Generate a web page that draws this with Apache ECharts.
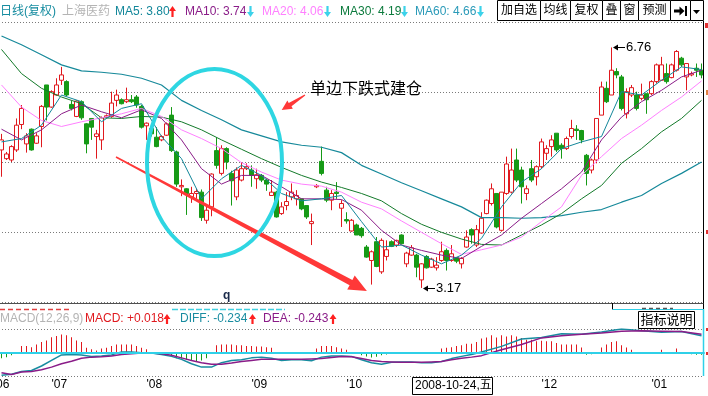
<!DOCTYPE html>
<html><head><meta charset="utf-8">
<script src="https://cdn.jsdelivr.net/npm/echarts@6/dist/echarts.min.js"></script>
<style>html,body{margin:0;padding:0;background:#fff}#c{width:708px;height:396px}</style>
</head><body><div id="c"></div>
<script>
// ---- daily candles (price, adjusted) ----
const openP = [5.23,5.10,5.08,5.23,5.61,5.32,5.54,5.33,5.58,6.20,
 5.87,6.05,6.27,6.25,5.91,5.73,5.95,5.62,5.70,5.43,
 5.38,5.72,5.73,5.97,5.98,5.95,5.98,6.02,5.88,5.59,
 5.55,5.42,5.38,5.45,5.75,5.20,4.68,4.65,4.53,4.58,
 4.60,4.18,4.38,5.22,4.88,5.25,4.88,4.53,4.78,4.95,
 4.93,4.80,4.85,4.78,4.55,4.60,4.28,4.40,4.53,4.50,
 4.50,4.40,4.13,4.68,5.06,4.63,4.48,4.60,4.36,4.19,
 4.02,4.11,4.06,3.78,3.58,3.86,3.41,3.64,3.86,3.81,
 3.96,3.53,3.66,3.66,3.29,3.64,3.48,3.47,3.58,3.73,
 3.58,3.62,3.53,3.78,4.04,3.81,3.99,4.28,4.43,4.58,
 4.03,4.58,4.60,5.08,4.93,4.58,4.95,4.83,4.98,5.18,
 5.28,5.48,5.30,5.25,5.43,5.54,5.52,5.15,4.93,5.08,
 5.75,6.15,6.05,6.40,6.32,5.77,6.05,6.05,6.00,6.07,
 6.07,6.25,6.27,6.37,6.31,6.42,6.60,6.32,6.35,6.45,
 6.42];
const closeP = [5.38,5.17,5.28,5.60,5.85,5.44,5.23,5.44,5.88,5.87,
 6.10,6.20,6.35,6.05,5.85,5.96,5.71,5.32,5.57,5.47,
 5.71,5.74,5.93,6.05,5.92,5.98,5.95,5.90,5.57,5.63,
 5.47,5.28,5.43,5.62,5.22,4.72,4.70,4.58,4.58,4.61,
 4.22,4.33,4.87,5.00,5.25,5.05,4.77,4.93,4.95,4.98,
 4.85,4.86,4.78,4.72,4.60,4.23,4.38,4.46,4.60,4.55,
 4.35,4.23,4.16,4.70,4.88,4.48,4.58,4.58,4.43,4.17,
 4.18,3.96,3.95,3.63,3.71,3.49,3.88,3.74,3.79,3.88,
 3.83,3.69,3.77,3.48,3.53,3.47,3.60,3.51,3.71,3.58,
 3.68,3.57,3.61,3.93,3.96,4.04,4.21,4.48,4.65,4.08,
 4.60,5.02,4.93,4.78,4.68,4.65,4.78,4.98,5.35,5.25,
 5.38,5.23,5.25,5.40,5.55,5.52,5.38,4.88,5.08,5.70,
 6.17,5.95,6.42,6.35,5.85,6.10,6.16,5.85,6.05,5.98,
 6.25,6.50,6.50,6.25,6.50,6.70,6.50,6.52,6.37,6.42,
 6.35];
const lowP = [4.83,5.08,5.05,5.20,5.54,5.19,5.22,5.32,5.27,5.67,
 5.86,6.04,6.20,6.03,5.82,5.72,5.68,5.18,5.38,5.10,
 5.23,5.70,5.71,5.88,5.91,5.93,5.93,5.86,5.55,5.38,
 5.43,5.27,5.36,5.44,5.20,4.68,4.54,4.26,4.44,4.50,
 4.17,4.13,4.24,4.95,4.85,4.94,4.40,4.48,4.76,4.93,
 4.68,4.65,4.75,4.62,4.55,4.22,4.26,4.33,4.48,4.40,
 4.33,4.20,3.81,4.66,4.85,4.45,4.33,4.50,4.08,4.13,
 4.01,3.96,3.92,3.62,3.22,3.48,3.38,3.58,3.78,3.78,
 3.82,3.48,3.65,3.33,3.17,3.46,3.47,3.43,3.56,3.43,
 3.56,3.54,3.46,3.77,3.83,3.78,3.98,4.27,4.40,4.06,
 4.01,4.56,4.58,4.75,4.43,4.48,4.75,4.70,4.95,5.08,
 5.13,5.20,5.10,5.23,5.40,5.38,5.33,4.70,4.88,5.03,
 5.75,5.93,6.05,6.30,5.82,5.70,6.02,5.82,5.97,5.77,
 6.05,6.22,6.26,6.22,6.30,6.40,6.47,6.12,6.33,6.32,
 6.30];
const highP = [5.47,5.20,5.30,5.70,5.90,5.48,5.55,5.48,5.90,6.20,
 6.12,6.30,6.47,6.27,5.96,5.97,5.97,5.63,5.70,5.53,
 5.73,5.76,6.10,6.13,6.00,6.16,6.05,6.05,5.90,5.64,
 5.58,5.57,5.45,5.64,5.87,5.22,4.79,4.66,4.68,4.65,
 4.64,4.38,4.88,5.42,5.30,5.27,4.92,4.97,5.05,5.03,
 5.00,4.95,4.87,4.80,4.78,4.62,4.45,4.60,4.73,4.63,
 4.50,4.40,4.28,4.72,5.28,4.68,4.63,4.75,4.48,4.30,
 4.20,4.13,4.08,3.81,3.73,3.93,3.91,3.88,3.88,3.89,
 3.97,3.71,3.81,3.68,3.54,3.66,3.62,3.63,3.86,3.76,
 3.81,3.63,3.63,4.03,4.06,4.11,4.30,4.49,4.73,4.58,
 4.60,5.13,5.25,5.25,4.98,4.70,5.08,5.00,5.40,5.30,
 5.45,5.48,5.33,5.43,5.68,5.60,5.53,5.17,5.10,5.70,
 6.25,6.25,6.76,6.45,6.35,6.15,6.20,6.10,6.22,6.07,
 6.27,6.52,6.62,6.52,6.52,6.72,6.62,6.52,6.40,6.52,
 6.52];
const categories = openP.map((_, i) => String(i));

// ---- moving averages, read at every 4th day ----
const maIdx = [0,4,8,12,16,20,24,28,32,36,40,44,48,52,56,60,64,68,72,76,80,84,88,92,96,100,104,108,112,116,120,124,128,132,136,140];
const ma5  = [5.35,5.40,5.60,6.05,5.95,5.65,5.85,5.92,5.43,5.10,4.50,4.80,5.00,4.85,4.58,4.47,4.50,4.55,4.16,3.78,3.81,3.66,3.53,3.66,3.91,4.38,4.75,4.95,5.25,5.35,5.43,6.10,6.05,6.27,6.47,6.43];
const ma10 = [5.54,5.38,5.53,5.77,5.90,5.80,5.71,5.83,5.70,5.38,4.95,4.72,4.85,4.85,4.68,4.50,4.50,4.49,4.33,4.03,3.81,3.73,3.66,3.61,3.79,3.96,4.21,4.43,4.65,4.90,5.38,5.72,5.95,6.12,6.32,6.42];
const ma20 = [6.20,5.87,5.67,5.58,5.65,5.71,5.77,5.85,5.73,5.53,5.40,5.25,5.04,4.90,4.78,4.72,4.69,4.60,4.45,4.35,4.17,4.00,3.83,3.67,3.74,3.81,3.93,4.16,4.38,4.85,5.13,5.40,5.60,5.82,6.02,6.26];
const ma30 = [6.73,6.37,6.15,6.02,5.92,5.71,5.70,5.73,5.72,5.65,5.53,5.38,5.24,5.10,4.97,4.85,4.75,4.67,4.58,4.47,4.28,4.12,4.00,3.90,3.82,3.81,3.96,4.11,4.28,4.50,4.70,5.03,5.25,5.50,5.70,5.97];
const ma60 = [6.93,6.80,6.65,6.50,6.41,6.39,6.36,6.30,6.20,5.97,5.82,5.68,5.53,5.44,5.35,5.30,5.27,5.19,5.00,4.87,4.74,4.62,4.50,4.38,4.22,4.22,4.21,4.22,4.25,4.30,4.34,4.45,4.55,4.73,4.88,5.05];

// ---- MACD ----
const macdHist = [-0.14,-0.11,-0.06,-0.02,0.19,0.19,0.16,0.23,0.30,0.34,
 0.43,0.46,0.50,0.48,0.43,0.34,0.30,0.14,0.10,0.07,
 0.12,0.14,0.19,0.23,0.23,0.23,0.23,0.19,0.14,0.10,
 0.03,-0.02,-0.05,-0.06,-0.09,-0.14,-0.15,-0.18,-0.20,-0.23,
 -0.20,-0.14,-0.02,0.21,0.23,0.23,0.23,0.21,0.21,0.19,
 0.19,0.18,0.18,0.16,0.14,0.02,0.01,0.03,0.01,0.03,
 0.02,0.01,0.02,0.12,0.19,0.19,0.19,0.16,0.12,0.09,
 0.02,-0.02,-0.06,-0.09,-0.12,-0.10,-0.06,-0.04,-0.02,0.02,
 0.02,0.01,0.02,0.03,0.02,0.03,0.02,0.03,0.12,0.14,
 0.16,0.19,0.21,0.25,0.25,0.30,0.39,0.42,0.48,0.42,
 0.48,0.45,0.48,0.45,0.41,0.36,0.36,0.32,0.33,0.32,
 0.32,0.27,0.23,0.23,0.23,0.23,0.15,-0.045,-0.03,0.03,
 0.15,0.23,0.30,0.32,0.21,0.15,0.09,0.03,0.01,-0.01,
 0.01,0.02,0.09,0.02,0.03,0.12,0.03,0.02,-0.03,-0.045,
 -0.045];
const macdIdx = [0,2,4,6,8,10,12,14,16,18,20,22,24,26,28,30,32,34,36,38,40,42,44,46,48,50,52,54,56,58,60,62,64,66,68,70,72,74,76,78,80,82,84,86,88,90,92,94,96,100,104,108,112,116,120,124,128,132,136,140];
const diffLine = [-0.60,-0.57,-0.50,-0.47,-0.35,-0.20,-0.05,-0.04,-0.05,-0.09,-0.08,-0.05,0.03,0.03,0.01,0.00,-0.04,-0.09,-0.17,-0.29,-0.38,-0.38,-0.26,-0.20,-0.18,-0.13,-0.11,-0.14,-0.20,-0.18,-0.18,-0.21,-0.11,-0.08,-0.08,-0.09,-0.18,-0.26,-0.30,-0.25,-0.24,-0.24,-0.26,-0.26,-0.23,-0.15,-0.09,-0.04,0.03,0.18,0.38,0.42,0.52,0.51,0.57,0.65,0.60,0.56,0.58,0.47];
const deaLine  = [-0.53,-0.58,-0.51,-0.50,-0.45,-0.38,-0.29,-0.22,-0.14,-0.11,-0.10,-0.08,-0.04,-0.02,0.00,0.00,-0.02,-0.06,-0.13,-0.20,-0.26,-0.30,-0.30,-0.27,-0.23,-0.20,-0.17,-0.17,-0.17,-0.17,-0.17,-0.16,-0.15,-0.12,-0.09,-0.10,-0.15,-0.20,-0.23,-0.24,-0.25,-0.25,-0.25,-0.24,-0.23,-0.18,-0.14,-0.11,-0.07,0.09,0.23,0.41,0.47,0.51,0.54,0.59,0.60,0.59,0.58,0.51];

// ---- axis labels / texts ----
const monthIdx = [0,10,29,50,69,108,130];
const monthLabels = ["'06","'07","'08","'09","'10","'12","'01"];
const headerMA = [["MA5", "3.80", "up"], ["MA10", "3.74", "down"], ["MA20", "4.06", "down"], ["MA30", "4.19", "down"], ["MA60", "4.66", "down"]];
const macdLegend = [["DIFF", "-0.234"], ["DEA", "-0.243"]];
const macdValue = "+0.018";
const crossDate = "2008-10-24,五";
const buttons = ["加自选","均线","复权","叠","窗","预测"];

const FONT = '"Liberation Sans","Noto Sans CJK SC",sans-serif';
const RED = '#e0191e', GREEN = '#169a16', CYAN = '#2fd0e8';
const C_MA5 = '#13879a', C_MA10 = '#8a1c88', C_MA20 = '#ff80ff', C_MA30 = '#137a2a', C_MA60 = '#16899a';

const chart = echarts.init(document.getElementById('c'), null, {renderer: 'canvas', width: 708, height: 396});

const maSeries = (name, arr, color, w) => ({
  type: 'line', name, xAxisIndex: 0, yAxisIndex: 0, data: maIdx.map((x, k) => [x, arr[k]]),
  showSymbol: false, symbol: 'none', silent: true, z: 3, lineStyle: {color, width: w}
});

const option = {
  animation: false,
  backgroundColor: '#fff',
  grid: [
    {left: -1, width: 705, top: 22, height: 280, containLabel: false, outerBoundsMode: 'none'},
    {left: -1, width: 705, top: 329, height: 47, containLabel: false, outerBoundsMode: 'none'}
  ],
  xAxis: [
    {type: 'category', gridIndex: 0, data: categories, show: false},
    {type: 'category', gridIndex: 1, data: categories, position: 'bottom', offset: 0, z: 6,
      axisLine: {show: true, lineStyle: {color: CYAN, width: 2}}, axisTick: {show: false}, splitLine: {show: false},
      axisLabel: {show: true, interval: (i) => monthIdx.indexOf(i) > 0, formatter: (v, i) => monthLabels[monthIdx.indexOf(Number(i))] || '',
        align: 'left', margin: 3, color: '#000', fontSize: 12, fontFamily: FONT}},
    {type: 'category', gridIndex: 1, data: categories, position: 'bottom', offset: 0,
      axisLine: {show: false}, axisTick: {show: false}, splitLine: {show: false},
      axisLabel: {show: true, interval: (i) => i === 0, formatter: () => monthLabels[0],
        align: 'center', margin: 3, color: '#000', fontSize: 12, fontFamily: FONT}}
  ],
  yAxis: [
    {type: 'value', gridIndex: 0, min: 2.96, max: 7.14, show: false},
    {type: 'value', gridIndex: 0, min: 0, max: 4, interval: 1, axisLine: {show: false}, axisTick: {show: false}, axisLabel: {show: false},
      splitLine: {show: true, lineStyle: {color: '#7a7a7a', type: [1, 2], width: 1}}},
    {type: 'value', gridIndex: 1, min: -0.62, max: 0.65, show: false},
    {type: 'value', gridIndex: 1, min: 0, max: 2, interval: 1, axisLine: {show: false}, axisTick: {show: false}, axisLabel: {show: false},
      splitLine: {show: true, lineStyle: {color: '#7a7a7a', type: [1, 2], width: 1}}}
  ],
  series: [
    {type: 'candlestick', xAxisIndex: 0, yAxisIndex: 0, z: 2, barWidth: 4,
      data: openP.map((o, i) => [o, closeP[i], lowP[i], highP[i]]),
      itemStyle: {color: '#ffffff', color0: GREEN, borderColor: RED, borderColor0: GREEN, borderWidth: 1}},
    maSeries('MA60', ma60, C_MA60, 1.2),
    maSeries('MA30', ma30, C_MA30, 1),
    maSeries('MA20', ma20, C_MA20, 1),
    maSeries('MA10', ma10, C_MA10, 1),
    maSeries('MA5', ma5, C_MA5, 1),
    {type: 'bar', xAxisIndex: 1, yAxisIndex: 2, barWidth: 1, barMinHeight: 1, silent: true,
      data: macdHist.map(v => ({value: v, itemStyle: {color: v >= 0 ? RED : GREEN}}))},
    {type: 'line', xAxisIndex: 1, yAxisIndex: 2, data: macdIdx.map((x, k) => [x, diffLine[k]]), showSymbol: false, symbol: 'none',
      lineStyle: {color: '#188ca0', width: 1.5}, z: 4},
    {type: 'line', xAxisIndex: 1, yAxisIndex: 2, data: macdIdx.map((x, k) => [x, deaLine[k]]), showSymbol: false, symbol: 'none',
      lineStyle: {color: C_MA10, width: 1.5}, z: 4}
  ]
};
chart.setOption(option);

// ---- overlay graphics ----
const G = [];
const txt = (x, y, s, color, size, o = {}) => G.push({type: 'text', x, y, z: 100,
  style: {text: s, fill: color, font: (o.bold ? 'bold ' : '') + size + 'px ' + FONT, align: o.align || 'left', verticalAlign: 'middle'}});
const line = (x1, y1, x2, y2, stroke, w = 1, dash) => G.push({type: 'line', z: 100, shape: {x1, y1, x2, y2},
  style: {stroke, lineWidth: w, lineDash: dash || null}});
const rect = (x, y, w, h, fill, stroke) => G.push({type: 'rect', z: 100, shape: {x, y, width: w, height: h},
  style: {fill: fill || 'none', stroke: stroke || null, lineWidth: 1}});
const poly = (pts, fill) => G.push({type: 'polygon', z: 101, shape: {points: pts}, style: {fill}});
const upArrow = (cx, y0, y1, col) => poly([[cx, y0], [cx + 3.5, y0 + 5], [cx + 1.1, y0 + 5], [cx + 1.1, y1], [cx - 1.1, y1], [cx - 1.1, y0 + 5], [cx - 3.5, y0 + 5]], col);
const downArrow = (cx, y0, y1, col) => poly([[cx, y1], [cx + 3.5, y1 - 5], [cx + 1.1, y1 - 5], [cx + 1.1, y0], [cx - 1.1, y0], [cx - 1.1, y1 - 5], [cx - 3.5, y1 - 5]], col);

// header
txt(0, 12, '日线(复权)', '#168ca0', 12);
txt(62, 12, '上海医药', '#b4b4b4', 12);
const maCols = [C_MA5, C_MA10, C_MA20, '#0b7a3c', '#2a9ab8'];
const maX = [115, 185, 262, 340, 415];
const arrX = [172.5, 250.5, 327.5, 404.5, 480.5];
headerMA.forEach((m, k) => {
  txt(maX[k], 12, m[0] + ': ' + m[1], maCols[k], 12);
  if (m[2] === 'up') upArrow(arrX[k], 6, 17, '#ff2020'); else downArrow(arrX[k], 6, 17, '#3cd2ea');
});
// buttons
const bx = [497, 540, 570, 602, 620, 638, 670, 690, 703];
for (let k = 0; k < bx.length - 1; k++) {
  rect(bx[k] + 0.5, 0.5, bx[k + 1] - bx[k], 20, '#fff', '#000');
  if (k < buttons.length) txt((bx[k] + bx[k + 1]) / 2 + 0.5, 11, buttons[k], '#000', 12, {align: 'center'});
}
poly([[674, 9.5], [679.5, 9.5], [679.5, 6.5], [684.5, 11], [679.5, 15.5], [679.5, 12.5], [674, 12.5]], '#000');
rect(685, 6, 2, 10, '#000');
poly([[693, 10], [700, 10], [696.5, 14]], '#000');

// borders
line(703.5, 21, 703.5, 309, '#000');
line(0, 303.5, 703.5, 303.5, '#505050');
line(612.5, 303, 612.5, 309.5, '#000');
line(612.5, 309.5, 704, 309.5, CYAN);
line(703.5, 309, 703.5, 376, CYAN, 1.5);
// clipped row fragments
line(0, 309.5, 70, 309.5, '#e04040', 1.5, [5, 3]);
line(172, 309.5, 285, 309.5, '#40d0e0', 1.5, [6, 2]);
line(642, 308.5, 673, 308.5, '#555', 1.5, [4, 3]);
// right clipped scale marks
rect(705, 23, 3, 5, '#e03030');
rect(706, 90, 2, 5, '#e08040');
rect(706, 230, 2, 4, '#e03030');
rect(706, 328, 2, 3, '#e03030');
rect(706, 352, 2, 3, '#e03030');

// MACD legend
txt(0, 319, 'MACD(12,26,9)', '#b4b4b4', 12);
txt(85, 319, 'MACD: ' + macdValue, RED, 12);
upArrow(167, 314, 324, '#ff2020');
txt(180, 319, macdLegend[0][0] + ': ' + macdLegend[0][1], '#188ca0', 12);
upArrow(252.5, 314, 324, '#ff2020');
txt(263, 319, macdLegend[1][0] + ': ' + macdLegend[1][1], C_MA10, 12);
upArrow(333, 314, 324, '#ff2020');
rect(638.5, 311.5, 56, 17, '#fff', '#000');
txt(666.5, 320, '指标说明', '#000', 13, {align: 'center'});

// crosshair date box
rect(412.5, 377.5, 80, 17, '#fff', '#000');
txt(415, 386, crossDate, '#000', 12);
txt(223, 296, 'q', '#1a2a4a', 12, {bold: true});

// annotations
G.push({type: 'ellipse', z: 102, shape: {cx: 214.5, cy: 162.5, rx: 67.5, ry: 93.5}, style: {fill: 'none', stroke: '#2ed6e2', lineWidth: 4}});
poly([[115.65, 157.66], [349.6, 285.2], [347.2, 289.6], [366.9, 291], [354.7, 275.4], [352.4, 279.9], [116.35, 156.34]], '#ff3838');
poly([[305.3, 95.4], [291.5, 106.2], [292.8, 108.8], [281.7, 110], [287.4, 100.4], [288.7, 103], [304.7, 94.6]], '#ff3838');
txt(310, 90, '单边下跌式建仓', '#000', 16);

// high / low labels via the axes
const hiIdx = highP.indexOf(Math.max(...highP));
const loIdx = lowP.indexOf(Math.min(...lowP));
const hp = chart.convertToPixel({xAxisIndex: 0, yAxisIndex: 0}, [hiIdx, highP[hiIdx]]);
const lp = chart.convertToPixel({xAxisIndex: 0, yAxisIndex: 0}, [loIdx, lowP[loIdx]]);
[[hp, highP[hiIdx]], [lp, lowP[loIdx]]].forEach(([p, v]) => {
  const x = Math.round(p[0]) + 1, y = Math.round(p[1]) + 0.5;
  poly([[x, y], [x + 5, y - 3], [x + 5, y + 3]], '#000');
  line(x + 4, y, x + 12, y, '#000');
  txt(x + 13, y, v.toFixed(2), '#000', 13);
});

chart.setOption({graphic: G});
</script>
</body></html>
